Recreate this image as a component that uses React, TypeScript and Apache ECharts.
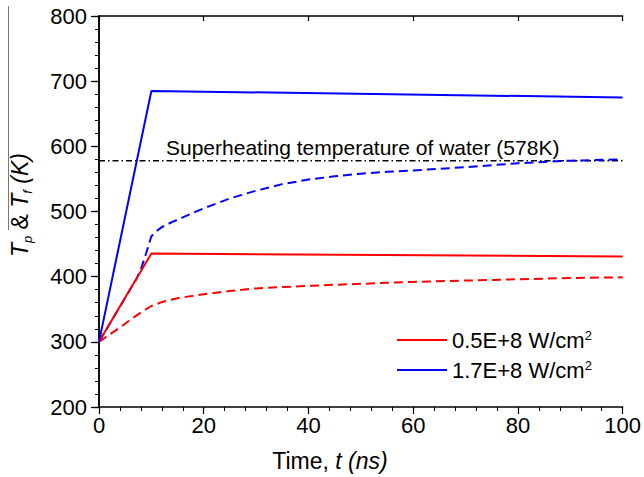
import React, { useEffect, useRef } from "react";
import * as echarts from "echarts";

// Solid lines (particle temperature T_p)
const TIME_SOLID = [0, 10, 100];
const TP_LOW = [300, 435.5, 431];
const TP_HIGH = [300, 685, 675];

// Dashed lines (fluid temperature T_f)
const TF_LOW_T = [0, 2, 4, 6, 8, 10, 12, 15, 20, 25, 30, 40, 50, 60, 70, 80, 90, 100];
const TF_LOW = [300, 311, 322, 334, 345, 355, 361, 367, 373, 378, 382, 386, 389, 392, 394, 396, 398, 399];
const TF_HIGH_T = [0, 2, 4, 6, 7, 8, 9, 10, 11, 12, 14, 16, 18, 20, 25, 30, 35, 40, 45, 50, 55, 60, 70, 80, 90, 100];
const TF_HIGH = [300, 327, 354, 381, 394, 411, 436, 462, 470, 476, 484, 491, 498, 505, 520, 532, 542, 549, 554, 558, 561, 563, 568, 574, 578, 580];

// Superheating temperature of water
const SUPERHEAT_T = [0, 100];
const SUPERHEAT = [578, 578];

const LEGEND_LABELS = ["0.5E+8", "1.7E+8"];
const X_TICKS = [0, 20, 40, 60, 80, 100];
const Y_TICKS = [200, 300, 400, 500, 600, 700, 800];

const FONT = "Liberation Sans, Arial, sans-serif";

const pairs = (xs: number[], ys: number[]) => xs.map((x, i) => [x, ys[i]]);

export default function App() {
  const ref = useRef<HTMLDivElement>(null);
  useEffect(() => {
    if (!ref.current) return;
    const chart = echarts.init(ref.current, undefined, { renderer: "svg" });
    const axisLine = { show: true, lineStyle: { color: "#000", width: 1.5 } };
    const option: any = {
      animation: false,
      backgroundColor: "#fff",
      grid: { left: 99, right: 19, top: 16, bottom: 70, containLabel: false },
      legend: {
        data: LEGEND_LABELS,
        orient: "vertical",
        left: 392,
        top: 324,
        itemGap: 8,
        itemWidth: 50,
        itemHeight: 2,
        icon: "rect",
        formatter: (name: string) => `{a|${name} W/cm}{s|2}`,
        textStyle: {
          fontFamily: FONT,
          color: "#000",
          rich: {
            a: { fontSize: 22, fontFamily: FONT, color: "#000", lineHeight: 22 },
            s: { fontSize: 13, fontFamily: FONT, color: "#000", verticalAlign: "top", lineHeight: 13 },
          },
        },
      },
      xAxis: [
        {
          type: "value",
          min: X_TICKS[0],
          max: X_TICKS[X_TICKS.length - 1],
          interval: 20,
          position: "bottom",
          axisLine,
          axisTick: { show: true, inside: false, length: 7, lineStyle: { color: "#000", width: 1.2 } },
          minorTick: { show: true, splitNumber: 5, length: 4, lineStyle: { color: "#000", width: 1 } },
          axisLabel: { fontSize: 22, fontFamily: FONT, color: "#000", margin: 7 },
          splitLine: { show: false },
        },
        {
          type: "value",
          min: X_TICKS[0],
          max: X_TICKS[X_TICKS.length - 1],
          interval: 20,
          position: "top",
          axisLine,
          axisTick: { show: true, inside: true, length: 5, lineStyle: { color: "#000", width: 1.2 } },
          axisLabel: { show: false },
          splitLine: { show: false },
        },
      ],
      yAxis: [
        {
          type: "value",
          min: Y_TICKS[0],
          max: Y_TICKS[Y_TICKS.length - 1],
          interval: 100,
          position: "left",
          axisLine,
          axisTick: { show: true, inside: false, length: 8, lineStyle: { color: "#000", width: 1.2 } },
          minorTick: { show: true, splitNumber: 5, length: 4, lineStyle: { color: "#000", width: 1 } },
          axisLabel: { fontSize: 22, fontFamily: FONT, color: "#000", margin: 12 },
          splitLine: { show: false },
        },
        {
          type: "value",
          min: Y_TICKS[0],
          max: Y_TICKS[Y_TICKS.length - 1],
          interval: 100,
          position: "right",
          axisLine,
          axisTick: { show: true, inside: true, length: 6, lineStyle: { color: "#000", width: 1.2 } },
          axisLabel: { show: false },
          splitLine: { show: false },
        },
      ],
      series: [
        {
          name: "Superheating temperature of water",
          type: "line",
          data: pairs(SUPERHEAT_T, SUPERHEAT),
          symbol: "none",
          lineStyle: { color: "#000", width: 1.5, type: [6, 3, 1.5, 3] },
          z: 1,
        },
        {
          name: "Tf " + LEGEND_LABELS[0],
          type: "line",
          data: pairs(TF_LOW_T, TF_LOW),
          symbol: "none",
          lineStyle: { color: "#ff0000", width: 2, type: [9, 5] },
          itemStyle: { color: "#ff0000" },
        },
        {
          name: "Tf " + LEGEND_LABELS[1],
          type: "line",
          data: pairs(TF_HIGH_T, TF_HIGH),
          symbol: "none",
          lineStyle: { color: "#0000ff", width: 2, type: [9, 5] },
          itemStyle: { color: "#0000ff" },
        },
        {
          name: LEGEND_LABELS[0],
          type: "line",
          data: pairs(TIME_SOLID, TP_LOW),
          symbol: "none",
          lineStyle: { color: "#ff0000", width: 2 },
          itemStyle: { color: "#ff0000" },
        },
        {
          name: LEGEND_LABELS[1],
          type: "line",
          data: pairs(TIME_SOLID, TP_HIGH),
          symbol: "none",
          lineStyle: { color: "#0000ff", width: 2 },
          itemStyle: { color: "#0000ff" },
        },
      ],
      graphic: [
        {
          type: "text",
          left: 166,
          top: 137,
          style: {
            text: "Superheating temperature of water (578K)",
            font: `21px ${FONT}`,
            fill: "#000",
          },
        },
        {
          type: "text",
          x: 330,
          y: 461,
          style: {
            text: "{n|Time, }{i|t (ns)}",
            align: "center",
            verticalAlign: "middle",
            rich: {
              n: { fontSize: 23, fontFamily: FONT, fill: "#000" },
              i: { fontSize: 23, fontFamily: FONT, fontStyle: "italic", fill: "#000" },
            },
          },
        },
        {
          type: "text",
          x: 20,
          y: 205,
          rotation: Math.PI / 2,
          style: {
            text: "{i|T}{s|p}{n| & }{i|T}{s|f}{i| (K)}",
            align: "center",
            verticalAlign: "middle",
            rich: {
              i: { fontSize: 23, fontFamily: FONT, fontStyle: "italic", fill: "#000", lineHeight: 28 },
              n: { fontSize: 23, fontFamily: FONT, fill: "#000", lineHeight: 28 },
              s: { fontSize: 13, fontFamily: FONT, fontStyle: "italic", fill: "#000", verticalAlign: "bottom", lineHeight: 13 },
            },
          },
        },
        {
          type: "line",
          shape: { x1: 8.5, y1: 6, x2: 8.5, y2: 230 },
          style: { stroke: "#777", lineWidth: 1 },
        },
      ],
    };
    chart.setOption(option);
    return () => chart.dispose();
  }, []);
  return (
    <div
      ref={ref}
      style={{ position: "fixed", left: 0, top: 0, width: 644, height: 477, background: "#fff" }}
    />
  );
}
